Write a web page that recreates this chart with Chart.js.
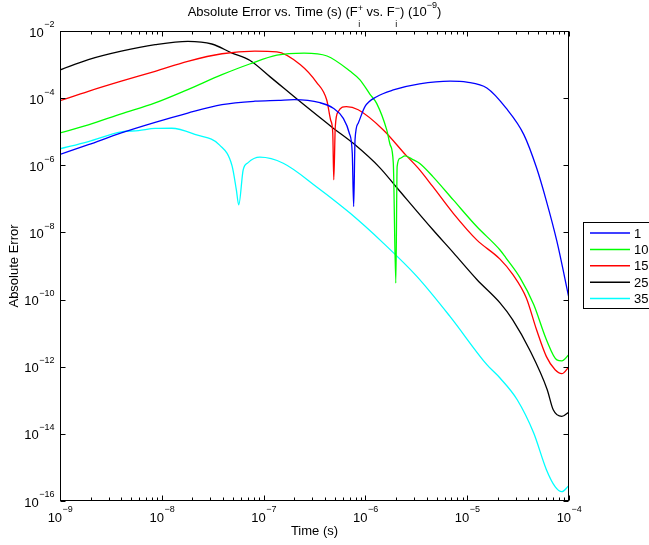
<!DOCTYPE html>
<html>
<head>
<meta charset="utf-8">
<title>Absolute Error vs. Time</title>
<script src="https://cdn.jsdelivr.net/npm/chart.js@4.4.1/dist/chart.umd.min.js"></script>
<style>
  html, body { margin: 0; padding: 0; background: #fff; }
</style>
</head>
<body>
<canvas id="chartErr" width="649" height="545"></canvas>
<script>
var seriesLabels = ['1', '10', '15', '25', '35'];
var seriesColors = ['#0000ff', '#00ff00', '#ff0000', '#000000', '#00ffff'];

// decade ticks
var xTicks = [1e-9, 1e-8, 1e-7, 1e-6, 1e-5, 1e-4];
var yTicks = [1e-16, 1e-14, 1e-12, 1e-10, 1e-8, 1e-6, 1e-4, 1e-2];

// case 1
var time1 = [1e-9, 1.9e-9, 4.0e-9, 8.6e-9, 1.8e-8, 3.9e-8, 8.2e-8, 1.4e-7, 2.0e-7, 3.58e-7, 4.84e-7, 6.07e-7, 6.95e-7, 7.43e-7, 7.67e-7, 7.91e-7, 8.5e-7, 9.9e-7, 1.29e-6, 1.88e-6, 3.4e-6, 6.8e-6, 9.9e-6, 1.56e-5, 2.4e-5, 3.6e-5, 4.8e-5, 6.0e-5, 7.6e-5, 1e-4];
var err1 = [2.1e-6, 4.1e-6, 9.2e-6, 1.9e-5, 3.6e-5, 6.4e-5, 8.1e-5, 8.6e-5, 9.0e-5, 7.3e-5, 5.0e-5, 2.5e-5, 9.0e-6, 2.3e-6, 5.9e-8, 5.7e-6, 1.8e-5, 5.6e-5, 1.1e-4, 1.75e-4, 2.65e-4, 3.2e-4, 3.0e-4, 2.0e-4, 5.1e-5, 8.2e-6, 8.4e-7, 8.6e-8, 5.5e-9, 1.1e-10];

// case 10
var time10 = [1e-9, 1.9e-9, 4.0e-9, 8.6e-9, 1.8e-8, 3.9e-8, 7.3e-8, 1.35e-7, 2.5e-7, 4.2e-7, 7.1e-7, 8.85e-7, 1.11e-6, 1.29e-6, 1.62e-6, 1.75e-6, 1.88e-6, 1.99e-6, 2.05e-6, 2.19e-6, 2.45e-6, 2.96e-6, 3.4e-6, 4.6e-6, 7.3e-6, 1.24e-5, 2.1e-5, 2.4e-5, 3.3e-5, 4.5e-5, 6.0e-5, 7.6e-5, 8.5e-5, 1e-4];
var err10 = [9.2e-6, 1.6e-5, 3.4e-5, 7.2e-5, 1.8e-4, 5.0e-4, 1.04e-3, 1.9e-3, 2.2e-3, 1.8e-3, 6.3e-4, 3.5e-4, 1.3e-4, 7.0e-5, 1.13e-5, 4.1e-6, 1.15e-6, 3.1e-10, 9.1e-7, 1.6e-6, 1.9e-6, 1.45e-6, 1.15e-6, 4.6e-7, 9.3e-8, 1.5e-8, 3.0e-9, 1.75e-9, 4.5e-10, 7.1e-11, 6.4e-12, 1.6e-12, 1.5e-12, 2.3e-12];

// case 15
var time15 = [1e-9, 1.9e-9, 4.0e-9, 8.6e-9, 1.8e-8, 3.9e-8, 8.2e-8, 1.35e-7, 2.3e-7, 3.3e-7, 4.17e-7, 4.56e-7, 4.78e-7, 4.89e-7, 5.06e-7, 5.42e-7, 6.5e-7, 8.5e-7, 1.5e-6, 2.5e-6, 3.3e-6, 4.6e-6, 7.3e-6, 1.24e-5, 2.1e-5, 2.8e-5, 3.8e-5, 4.8e-5, 6.0e-5, 7.3e-5, 8.5e-5, 1e-4];
var err15 = [8.4e-5, 1.6e-4, 3.2e-4, 6.3e-4, 1.25e-3, 2.1e-3, 2.5e-3, 2.4e-3, 9.9e-4, 3.0e-4, 8.8e-5, 2.2e-5, 9.2e-6, 3.7e-7, 1.4e-5, 4.0e-5, 5.6e-5, 4.5e-5, 1.13e-5, 2.0e-6, 8.2e-7, 2.3e-7, 3.7e-8, 6.0e-9, 1.6e-9, 5.6e-10, 1.13e-10, 1.26e-11, 2.0e-12, 8.1e-13, 6.2e-13, 1.0e-12];

// case 25
var time25 = [1e-9, 1.9e-9, 4.0e-9, 8.6e-9, 1.8e-8, 3.1e-8, 4.9e-8, 7.3e-8, 1.16e-7, 2.28e-7, 4.8e-7, 7.6e-7, 1.39e-6, 2.0e-6, 4.6e-6, 7.3e-6, 1.25e-5, 2.1e-5, 2.8e-5, 4.1e-5, 6.1e-5, 7.0e-5, 8.5e-5, 1e-4];
var err25 = [6.9e-4, 1.4e-3, 2.5e-3, 3.9e-3, 4.9e-3, 4.1e-3, 2.2e-3, 1.34e-3, 4.3e-4, 7.9e-5, 1.3e-5, 4.5e-6, 8.4e-7, 2.3e-7, 1.2e-8, 2.5e-9, 3.9e-10, 8.0e-11, 2.5e-11, 3.2e-12, 2.1e-13, 5.2e-14, 3.3e-14, 4.5e-14];

// case 35
var time35 = [1e-9, 1.9e-9, 4.0e-9, 5.9e-9, 8.6e-9, 1.25e-8, 2.2e-8, 3.7e-8, 4.9e-8, 5.4e-8, 5.7e-8, 6.3e-8, 7.0e-8, 9.2e-8, 1.56e-7, 3.3e-7, 7.1e-7, 1.5e-6, 3.2e-6, 6.8e-6, 1.56e-5, 2.1e-5, 3.1e-5, 4.5e-5, 6.0e-5, 7.3e-5, 8.5e-5, 1e-4];
var err35 = [3.1e-6, 5.1e-6, 9.9e-6, 1.08e-5, 1.25e-5, 1.27e-5, 8.0e-6, 4.0e-6, 9.6e-7, 1.85e-7, 6.6e-8, 7.3e-7, 1.18e-6, 1.74e-6, 1.15e-6, 2.3e-7, 3.7e-8, 4.8e-9, 4.9e-10, 3.1e-11, 1.15e-12, 4.6e-13, 1.04e-13, 1.06e-14, 8.6e-16, 2.7e-16, 1.9e-16, 2.9e-16];

var seriesTimes = [time1, time10, time15, time25, time35];
var seriesErrors = [err1, err10, err15, err25, err35];

var FONT = '"Liberation Sans", Arial, Helvetica, sans-serif';
var bigFont = '13px ' + FONT;
var smallFont = '9px ' + FONT;

function toPoints(times, errs) {
  return times.map(function(t, i) { return { x: t, y: errs[i] }; });
}

function expText(v) {
  var p = Math.round(Math.log10(v));
  return (p < 0 ? '\u2212' : '') + Math.abs(p);
}

// "10" with a raised exponent, anchored on the right or centred
function drawPower(ctx, exp, x, y, anchor) {
  ctx.font = bigFont;
  var wBase = ctx.measureText('10').width;
  ctx.font = smallFont;
  var wExp = ctx.measureText(exp).width;
  var left = anchor === 'right' ? x - wBase - wExp : x - (wBase + wExp) / 2;
  ctx.textAlign = 'left';
  ctx.textBaseline = 'middle';
  ctx.font = bigFont;
  ctx.fillText('10', left, y);
  ctx.font = smallFont;
  ctx.fillText(exp, left + wBase + 0.5, y - 8);
}

// title pieces: [text, superscript, subscript]
var titleParts = [
  ['Absolute Error vs. Time (s) (F', '', ''],
  ['', '+', 'i'],
  [' vs. F', '', ''],
  ['', '\u2212', 'i'],
  [') (10', '', ''],
  ['', '\u22129', ''],
  [')', '', '']
];

function drawTitle(ctx, cx, baseY) {
  var widths = titleParts.map(function(p) {
    ctx.font = bigFont;
    var w = ctx.measureText(p[0]).width;
    ctx.font = smallFont;
    return w + Math.max(ctx.measureText(p[1]).width, ctx.measureText(p[2]).width);
  });
  var total = widths.reduce(function(a, b) { return a + b; }, 0);
  var x = cx - total / 2;
  ctx.textAlign = 'left';
  ctx.textBaseline = 'alphabetic';
  titleParts.forEach(function(p, i) {
    if (p[0]) {
      ctx.font = bigFont;
      ctx.fillText(p[0], x, baseY);
    } else {
      ctx.font = smallFont;
      var supY = p[2] ? baseY - 5 : baseY - 8;
      if (p[1]) ctx.fillText(p[1], x, supY);
      if (p[2]) ctx.fillText(p[2], x + 0.5, baseY + 11);
    }
    x += widths[i];
  });
}

var matlabFrame = {
  id: 'matlabFrame',
  afterDatasetsDraw: function(chart) {
    var ctx = chart.ctx;
    var a = chart.chartArea;
    var xs = chart.scales.x;
    var ys = chart.scales.y;
    var L = a.left + 0.5, R = a.right - 0.5, T = a.top + 0.5, B = a.bottom - 0.5;

    ctx.save();
    ctx.strokeStyle = '#000';
    ctx.fillStyle = '#000';
    ctx.lineWidth = 1;
    ctx.strokeRect(L, T, R - L, B - T);

    // x ticks, major and minor, pointing inward
    ctx.beginPath();
    for (var d = 0; d < xTicks.length; d++) {
      for (var k = 1; k <= 9; k++) {
        var v = xTicks[d] * k;
        if (v > xTicks[xTicks.length - 1] * 1.0001) break;
        var px = Math.round(xs.getPixelForValue(v)) + 0.5;
        var len = k === 1 ? 5 : 3;
        ctx.moveTo(px, B); ctx.lineTo(px, B - len);
        ctx.moveTo(px, T); ctx.lineTo(px, T + len);
      }
    }
    yTicks.forEach(function(v) {
      var py = Math.round(ys.getPixelForValue(v)) + 0.5;
      ctx.moveTo(L, py); ctx.lineTo(L + 5, py);
      ctx.moveTo(R, py); ctx.lineTo(R - 5, py);
    });
    ctx.stroke();

    // tick labels
    xTicks.forEach(function(v) {
      drawPower(ctx, expText(v), xs.getPixelForValue(v), a.bottom + 17, 'center');
    });
    yTicks.forEach(function(v) {
      drawPower(ctx, expText(v), a.left - 6, ys.getPixelForValue(v) + 2, 'right');
    });

    // axis titles
    ctx.font = bigFont;
    ctx.textAlign = 'center';
    ctx.textBaseline = 'middle';
    ctx.fillText('Time (s)', (a.left + a.right) / 2, a.bottom + 30);
    ctx.save();
    ctx.translate(14, (a.top + a.bottom) / 2);
    ctx.rotate(-Math.PI / 2);
    ctx.fillText('Absolute Error', 0, 0);
    ctx.restore();

    drawTitle(ctx, (a.left + a.right) / 2, 16);

    // legend box
    var bx = 583.5, by = 222.5, bh = 86;
    ctx.fillStyle = '#fff';
    ctx.fillRect(bx, by, 120, bh);
    ctx.strokeStyle = '#000';
    ctx.lineWidth = 1;
    ctx.strokeRect(bx, by, 120, bh);
    chart.data.datasets.forEach(function(ds, i) {
      var ry = 233 + i * 16.4;
      ctx.strokeStyle = seriesColors[i];
      ctx.lineWidth = 1.5;
      ctx.beginPath();
      ctx.moveTo(590, ry);
      ctx.lineTo(630, ry);
      ctx.stroke();
      ctx.fillStyle = '#000';
      ctx.font = bigFont;
      ctx.textAlign = 'left';
      ctx.textBaseline = 'middle';
      ctx.fillText(ds.label, 634, ry + 1);
    });
    ctx.restore();
  }
};

var ctx = document.getElementById('chartErr').getContext('2d');

var chartErr = new Chart(ctx, {
  type: 'scatter',
  data: {
    datasets: seriesLabels.map(function(lbl, i) {
      return {
        label: lbl,
        data: toPoints(seriesTimes[i], seriesErrors[i]),
        showLine: true,
        borderColor: seriesColors[i],
        backgroundColor: seriesColors[i],
        borderWidth: 1.3,
        pointRadius: 0,
        cubicInterpolationMode: 'monotone',
        fill: false
      };
    })
  },
  options: {
    responsive: false,
    animation: false,
    devicePixelRatio: 1,
    layout: {
      padding: { left: 60, right: 80, top: 31, bottom: 44 }
    },
    plugins: {
      legend: { display: false },
      title: { display: false },
      tooltip: { enabled: false }
    },
    scales: {
      x: { type: 'logarithmic', min: 1e-9, max: 1e-4, display: false },
      y: { type: 'logarithmic', min: 1e-16, max: 1e-2, display: false }
    }
  },
  plugins: [matlabFrame]
});
</script>
</body>
</html>
